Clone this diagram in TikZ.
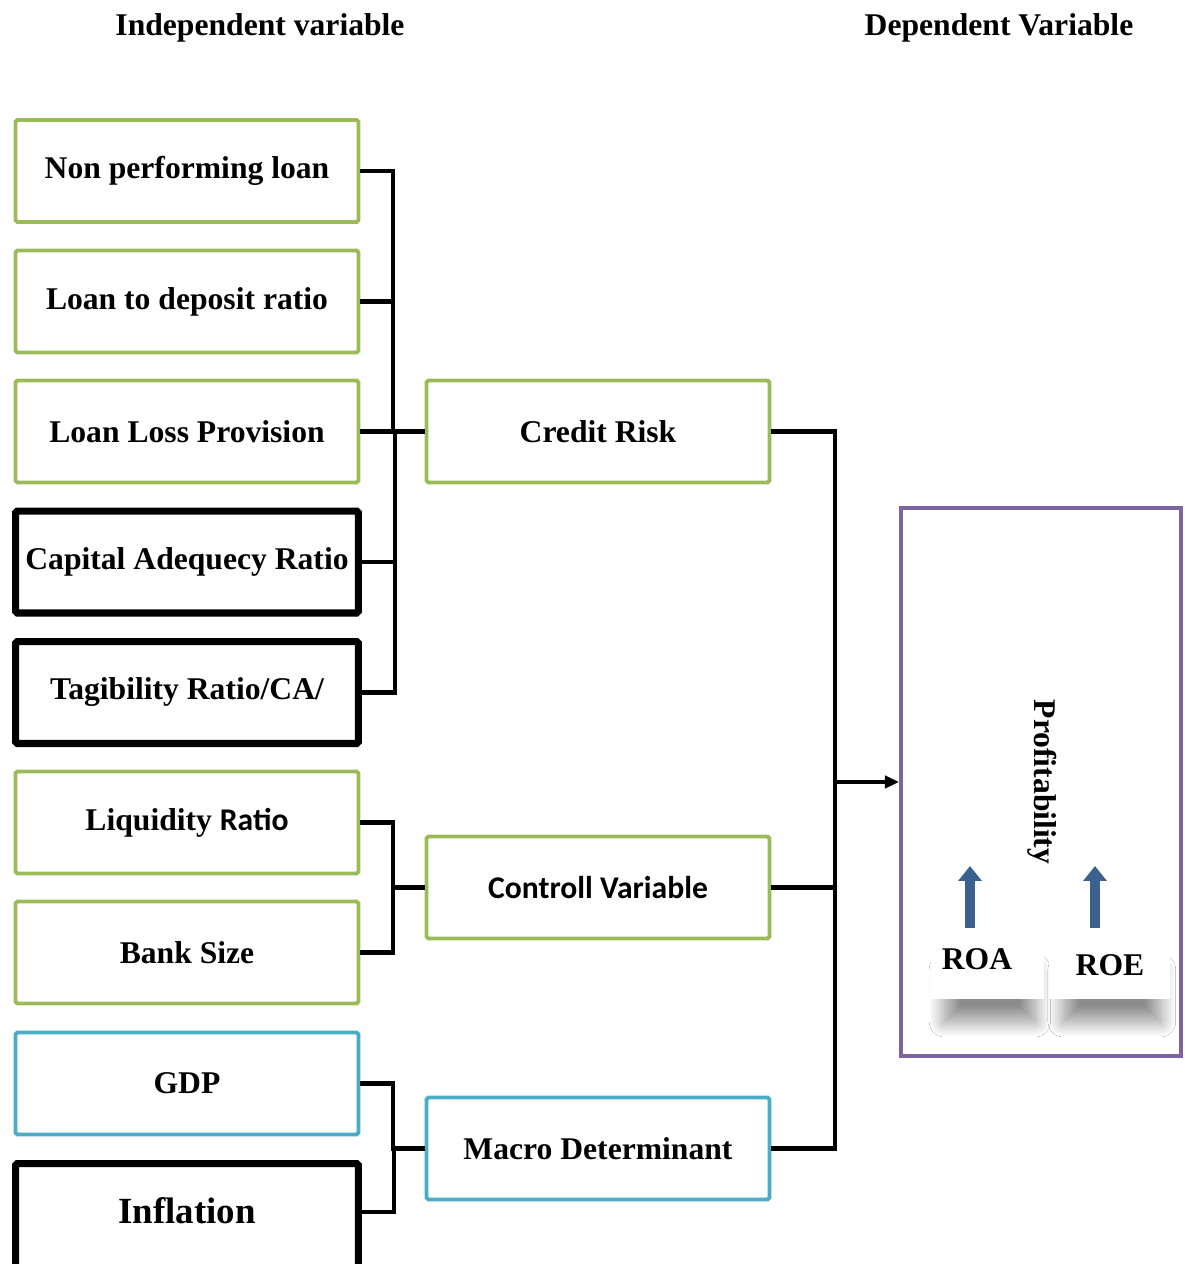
\documentclass[tikz,border=0pt]{standalone}
\usepackage{fontspec}
\setmainfont{Liberation Serif}
\newfontfamily\calibri{Carlito}
\usepackage{xcolor}
\usepackage{tikz}
\usetikzlibrary{arrows, arrows.meta, positioning, shadows.blur}
\definecolor{FWgreen}{HTML}{9BBB59}
\definecolor{FWblue}{HTML}{4BACC6}
\definecolor{FWpurple}{HTML}{8064A2}
\definecolor{FWarrow}{HTML}{3A6190}
\newcommand{\fwfont}{\fontsize{18}{21}\selectfont\bfseries}

\begin{document}
\begin{tikzpicture}[x=0.02cm, y=-0.02cm,
    var/.style={draw=FWgreen, line width=2.2pt, fill=white, rounded corners=1pt,
      minimum width=6.86cm, minimum height=2.04cm, inner sep=0pt, font=\fwfont},
    macrovar/.style={var, draw=FWblue},
    boldvar/.style={var, draw=black, line width=4pt},
    link/.style={line width=2.3pt, black},
    ratio/.style={fill=white, inner sep=0pt, blur shadow={shadow xshift=2pt, shadow yshift=-21pt, shadow scale=0.8, shadow blur radius=11pt, shadow blur steps=24, shadow opacity=45}}]
  \useasboundingbox (0,0) rectangle (1185,1264);
  % headings
  \node[font=\fwfont] (indep) at (260,28) {Independent variable};
  \node[font=\fwfont] (dep) at (999,28) {Dependent Variable};
  % independent variables
  \node[var] (npl) at (187,171) {Non performing loan};
  \node[var] (ldr) at (187,301.5) {Loan to deposit ratio};
  \node[var] (llp) at (187,431.5) {Loan Loss Provision};
  \node[boldvar] (car) at (187,562) {Capital Adequecy Ratio};
  \node[boldvar] (tr) at (187,692.5) {Tagibility Ratio/CA/};
  \node[var] (liq) at (187,822.5) {Liquidity {\calibri Ratio}};
  \node[var] (size) at (187,952.5) {Bank Size};
  \node[macrovar] (gdp) at (187,1083.5) {GDP};
  \node[boldvar, minimum height=2.3cm, font=\fontsize{21}{24}\selectfont\bfseries] (infl) at (187,1221) {\raisebox{0.2cm}[\height][\depth]{Inflation}};
  \coordinate (inflout) at (361,1212);
  % groups
  \node[var] (credit) at (598,431.5) {Credit Risk};
  \node[var, font=\calibri\fwfont] (ctrl) at (598,887.5) {Controll Variable};
  \node[macrovar] (macro) at (598,1148.5) {Macro Determinant};
  \foreach \n in {npl,ldr,llp,car,tr}
    \draw[link] (\n.east) -- ++(33,0) |- (credit.west);
  \foreach \n in {liq,size}
    \draw[link] (\n.east) -- ++(33,0) |- (ctrl.west);
  \foreach \n in {gdp.east,inflout}
    \draw[link] (\n) -- ++(33,0) |- (macro.west);
  % dependent variable
  \node[draw=FWpurple, line width=2.3pt, fill=white, minimum width=5.6cm,
    minimum height=10.96cm, inner sep=0pt] (prof) at (1041,782) {};
  \node[ratio, minimum width=2.26cm, minimum height=1.3cm] (roa) at (987,966) {};
  \node[ratio, minimum width=2.42cm, minimum height=1.3cm] (roe) at (1109,966) {};
  \node[font=\fwfont] (roatext) at (977,959) {ROA};
  \node[font=\fwfont] (roetext) at (1110,965) {ROE};
  \node[font=\fwfont, rotate=-90] (proftext) at (1042,782) {Profitability};
  \coordinate (roaup) at (970,866);
  \coordinate (roeup) at (1095,866);
  \draw[FWarrow, line width=5.6pt, -{Triangle[width=13pt, length=8.5pt]}]
    (roatext.north -| roaup) ++(0,-14) -- (roaup);
  \draw[FWarrow, line width=5.6pt, -{Triangle[width=13pt, length=8.5pt]}]
    (roetext.north -| roeup) ++(0,-20) -- (roeup);
  \coordinate (rb) at (835,782);
  \foreach \n in {credit,ctrl,macro}
    \draw[link] (\n.east) -| (rb);
  \draw[link, -{Triangle[width=7pt, length=8pt]}] (rb) -- (prof.west);
\end{tikzpicture}
\end{document}
